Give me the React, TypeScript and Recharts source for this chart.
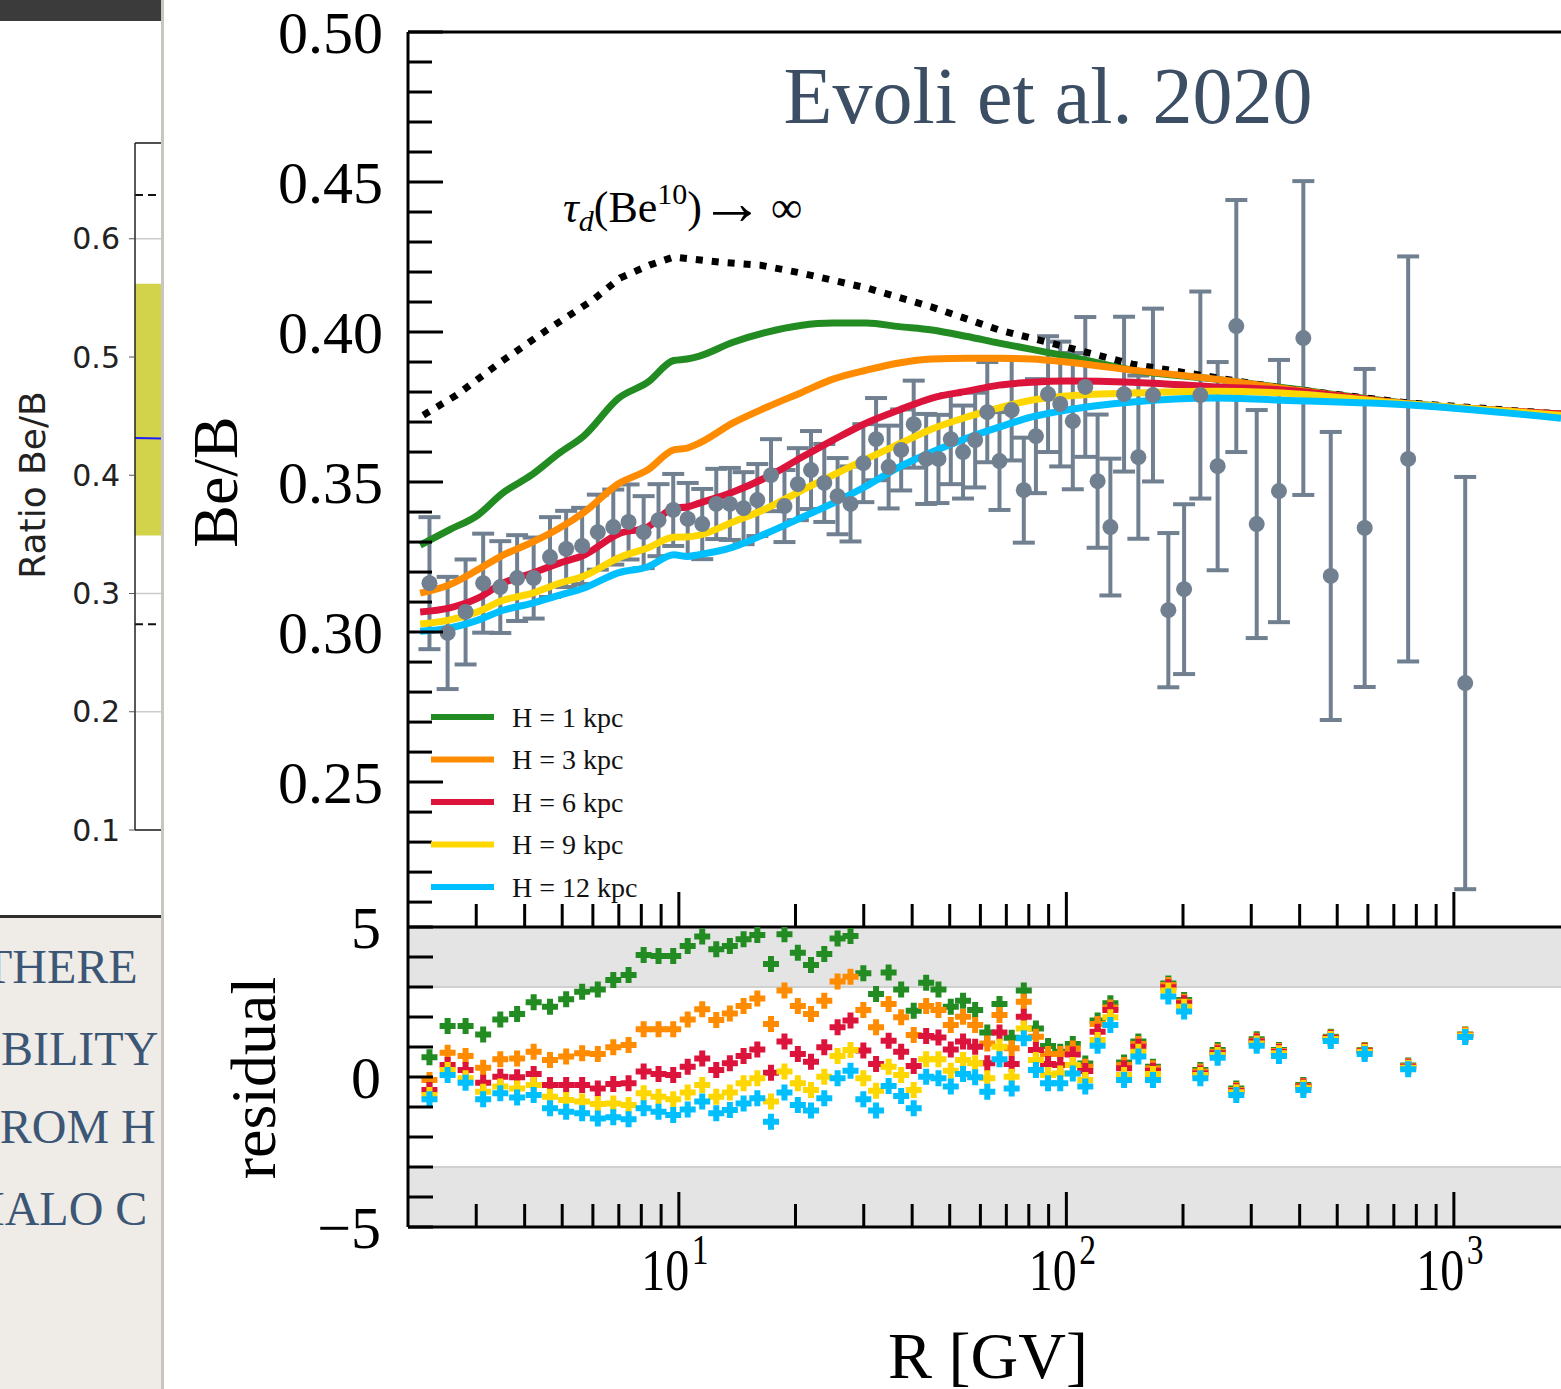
import React from 'react';
import {
  ComposedChart,
  LineChart,
  Line,
  Scatter,
  ErrorBar,
  XAxis,
  YAxis,
  ReferenceLine,
  ReferenceArea,
  CartesianGrid,
} from 'recharts';

const SERIF = '"Liberation Serif", "Times New Roman", serif';
const SANS = '"DejaVu Sans", sans-serif';

// ---------- AMS-02 Be/B data (rigidity bin centres, ratio, error) ----------
const binR = [
  2.272, 2.531, 2.816, 3.126, 3.461, 3.825, 4.22, 4.65, 5.119, 5.629,
  6.178, 6.773, 7.417, 8.112, 8.862, 9.671, 10.54, 11.49, 12.49, 13.54,
  14.69, 15.94, 17.29, 18.73, 20.28, 21.93, 23.73, 25.68, 27.73, 29.93,
  32.28, 34.78, 37.47, 40.37, 43.47, 46.77, 50.32, 54.12, 58.16, 62.51,
  67.21, 72.25, 77.65, 83.45, 89.69, 96.44, 103.9, 111.9, 120.4, 129.9,
  140.9, 153.4, 167.3, 183.3, 201.3, 221.7, 245.7, 274.5, 309.9, 353.7,
  408.8, 481.2, 588.6, 762.1, 1069.6,
];
const beB = [
  0.3163, 0.2997, 0.3067, 0.3163, 0.315, 0.318, 0.318, 0.325, 0.3277, 0.3287,
  0.3333, 0.335, 0.3367, 0.3333, 0.3373, 0.3407, 0.3377, 0.336, 0.3427, 0.3427,
  0.3413, 0.344, 0.3523, 0.342, 0.3493, 0.354, 0.3497, 0.3453, 0.3427, 0.3563,
  0.3643, 0.355, 0.3607, 0.3693, 0.3577, 0.3577, 0.3643, 0.36, 0.364, 0.3733,
  0.357, 0.374, 0.3473, 0.3653, 0.3793, 0.376, 0.3703, 0.3817, 0.3503, 0.335,
  0.3793, 0.3583, 0.379, 0.3073, 0.3143, 0.379, 0.3553, 0.402, 0.336, 0.347,
  0.398, 0.3187, 0.3347, 0.3577, 0.283,
];
const beBErr = [
  0.022, 0.0187, 0.0175, 0.0165, 0.0153, 0.0143, 0.0135, 0.0133, 0.0127, 0.0127,
  0.0125, 0.0125, 0.0125, 0.012, 0.012, 0.012, 0.012, 0.0117, 0.0117, 0.012,
  0.012, 0.012, 0.012, 0.012, 0.012, 0.013, 0.013, 0.0127, 0.0125, 0.013,
  0.0137, 0.0138, 0.0135, 0.0145, 0.015, 0.0147, 0.015, 0.0155, 0.0158, 0.0167,
  0.0163, 0.0168, 0.0175, 0.019, 0.0193, 0.0208, 0.0227, 0.0233, 0.0222, 0.0228,
  0.0258, 0.0272, 0.0288, 0.0257, 0.0283, 0.0345, 0.0347, 0.042, 0.038, 0.0437,
  0.0523, 0.048, 0.053, 0.0675, 0.0687,
];

// ---------- model curves ----------
const modelR = [
  2.15, 2.55, 3.03, 3.5, 4.15, 4.9, 5.7, 7.0, 8.3, 9.7, 10.5, 11.3, 13.8, 16.9,
  20.6, 25, 30.5, 37, 45, 55.5, 67, 81.5, 100, 148, 243, 360, 770, 1890,
];
const modelH1 = [
  0.329, 0.334, 0.339, 0.3462, 0.3522, 0.3595, 0.3655, 0.378, 0.3832, 0.3905, 0.391, 0.392, 0.3966, 0.4,
  0.4022, 0.403, 0.403, 0.4018, 0.4007, 0.3985, 0.3963, 0.3942, 0.392, 0.3873, 0.3843, 0.3815, 0.3762, 0.3725,
];
const modelH3 = [
  0.313, 0.3157, 0.3208, 0.3255, 0.3297, 0.3345, 0.34, 0.3495, 0.354, 0.3607, 0.3613, 0.363, 0.3697, 0.375,
  0.3797, 0.3843, 0.3873, 0.3897, 0.391, 0.3913, 0.3913, 0.391, 0.39, 0.3873, 0.3843, 0.3813, 0.376, 0.3727,
];
const modelH6 = [
  0.3067, 0.308, 0.3113, 0.3162, 0.3195, 0.3229, 0.3257, 0.3328, 0.335, 0.3413, 0.3417, 0.343, 0.3467, 0.3517,
  0.358, 0.364, 0.3697, 0.374, 0.378, 0.3803, 0.3823, 0.3833, 0.3837, 0.3833, 0.3817, 0.3807, 0.376, 0.3727,
];
const modelH9 = [
  0.3027, 0.304, 0.3068, 0.3105, 0.3128, 0.3162, 0.3187, 0.3248, 0.328, 0.3316, 0.3317, 0.3323, 0.3367, 0.3413,
  0.347, 0.3523, 0.3577, 0.3627, 0.3677, 0.3717, 0.3747, 0.3773, 0.3787, 0.3797, 0.3803, 0.3797, 0.376, 0.3723,
];
const modelH12 = [
  0.3003, 0.3013, 0.304, 0.3072, 0.3095, 0.3122, 0.3147, 0.3198, 0.3217, 0.3258, 0.3252, 0.3258, 0.3283, 0.333,
  0.338, 0.343, 0.3487, 0.355, 0.36, 0.3647, 0.3683, 0.3717, 0.374, 0.3767, 0.378, 0.3773, 0.3757, 0.3713,
];
const dottedR = [2.19, 2.67, 3.47, 4.57, 6.0, 7.05, 8.4, 9.7, 12.7, 16.2, 20.6, 30.5, 45, 67, 100, 148, 220, 360, 770, 1890];
const dottedV = [
  0.3723, 0.379, 0.39, 0.4007, 0.4107, 0.418, 0.4223, 0.425, 0.4233, 0.4223,
  0.4197, 0.4147, 0.4083, 0.4007, 0.395, 0.3893, 0.3857, 0.3813, 0.3763, 0.3727,
];

// ---------- residuals ----------
const resH1 = [
  0.66, 1.7, 1.7, 1.42, 1.92, 2.1, 2.49, 2.34, 2.59, 2.84,
  2.92, 3.23, 3.4, 4.07, 4.03, 4.03, 4.37, 4.68, 4.26, 4.37,
  4.59, 4.73, 3.77, 4.76, 4.14, 3.73, 4.1, 4.62, 4.7, 3.46,
  2.77, 3.48, 2.92, 2.21, 3.14, 2.92, 2.34, 2.54, 2.23, 1.48,
  2.43, 1.31, 2.88, 1.62, 1.03, 0.84, 1.1, 0.45, 1.88, 2.46,
  0.48, 1.18, 0.34, 3.12, 2.57, 0.23, 0.9, -0.38, 1.26, 0.9,
  -0.27, 1.34, 0.9, 0.38, 1.42,
];
const resH3 = [
  -0.1, 0.81, 0.7, 0.31, 0.59, 0.62, 0.84, 0.57, 0.68, 0.79,
  0.77, 0.99, 1.07, 1.59, 1.59, 1.59, 1.92, 2.26, 1.9, 2.12,
  2.37, 2.62, 1.77, 2.88, 2.37, 2.1, 2.54, 3.18, 3.34, 2.23,
  1.66, 2.43, 1.99, 1.4, 2.37, 2.23, 1.73, 2.01, 1.73, 1.12,
  2.07, 0.96, 2.51, 1.34, 0.77, 0.77, 0.95, 0.34, 1.77, 2.32,
  0.4, 1.1, 0.29, 3.07, 2.51, 0.18, 0.84, -0.43, 1.21, 0.87,
  -0.3, 1.32, 0.88, 0.36, 1.41,
];
const resH6 = [
  -0.43, 0.4, 0.23, -0.19, 0.01, -0.01, 0.1, -0.27, -0.27, -0.27,
  -0.38, -0.23, -0.21, 0.18, 0.1, 0.07, 0.34, 0.62, 0.23, 0.46,
  0.7, 0.92, 0.14, 1.18, 0.77, 0.51, 0.99, 1.66, 1.88, 0.88,
  0.43, 1.21, 0.84, 0.37, 1.37, 1.32, 0.92, 1.18, 1.01, 0.46,
  1.48, 0.43, 2.01, 0.9, 0.43, 0.4, 0.75, 0.2, 1.51, 2.23,
  0.29, 1.01, 0.21, 2.99, 2.46, 0.12, 0.79, -0.47, 1.18, 0.83,
  -0.32, 1.3, 0.86, 0.34, 1.4,
];
const resH9 = [
  -0.6, 0.23, -0.04, -0.49, -0.32, -0.38, -0.27, -0.66, -0.77, -0.82,
  -0.9, -0.88, -0.93, -0.54, -0.66, -0.74, -0.52, -0.27, -0.66, -0.52,
  -0.21, -0.04, -0.82, 0.18, -0.21, -0.43, 0.01, 0.7, 0.9, -0.04,
  -0.46, 0.34, 0.07, -0.43, 0.59, 0.59, 0.21, 0.57, 0.46, -0.04,
  1.01, 0.01, 1.62, 0.57, 0.07, 0.12, 0.4, -0.1, 1.23, 1.99,
  0.07, 0.84, 0.1, 2.88, 2.34, 0.07, 0.73, -0.51, 1.12, 0.79,
  -0.36, 1.27, 0.83, 0.31, 1.38,
];
const resH12 = [
  -0.74, 0.07, -0.19, -0.74, -0.54, -0.68, -0.6, -1.04, -1.16, -1.21,
  -1.38, -1.34, -1.41, -1.04, -1.16, -1.27, -1.08, -0.82, -1.21, -1.1,
  -0.88, -0.71, -1.49, -0.52, -0.93, -1.12, -0.71, -0.04, 0.21, -0.74,
  -1.12, -0.3, -0.63, -1.04, 0.01, -0.04, -0.32, 0.1, -0.01, -0.49,
  0.59, -0.38, 1.29, 0.23, -0.21, -0.21, 0.12, -0.32, 1.04, 1.73,
  -0.1, 0.68, -0.1, 2.68, 2.18, -0.04, 0.64, -0.6, 1.04, 0.7,
  -0.43, 1.2, 0.77, 0.26, 1.33,
];

const seriesNames = ['H = 1 kpc', 'H = 3 kpc', 'H = 6 kpc', 'H = 9 kpc', 'H = 12 kpc'];
const seriesColors = ['#228b22', '#ff8c00', '#dc143c', '#ffd700', '#00bfff'];

// ---------- ticks ----------
const mainYTicks = [
  0.21, 0.22, 0.23, 0.24, 0.25, 0.26, 0.27, 0.28, 0.29, 0.3,
  0.31, 0.32, 0.33, 0.34, 0.35, 0.36, 0.37, 0.38, 0.39, 0.4,
  0.41, 0.42, 0.43, 0.44, 0.45, 0.46, 0.47, 0.48, 0.49, 0.5,
];
const resYTicks = [-5, -4, -3, -2, -1, 0, 1, 2, 3, 4, 5];
const resYLabels = [-5, 0, 5];
const xTicks = [
  3, 4, 5, 6, 7, 8, 9, 10, 20, 30, 40, 50, 60, 70, 80, 90,
  100, 200, 300, 400, 500, 600, 700, 800, 900, 1000,
];
const xMajor = [10, 100, 1000];
const xMajorExp = ['1', '2', '3'];

// ---------- left (background slide) panel ----------
const leftTicks = [0.1, 0.2, 0.3, 0.4, 0.5, 0.6];
const leftBand = [0.349, 0.562];
const leftDashed = [0.637, 0.274];
const leftBlueX = [0, 1];
const leftBlueV = [0.4315, 0.4285];
const slideWords = ['THERE', 'BILITY', 'FROM H', 'HALO C'];

const mainData = binR.map((R, i) => ({ R, v: beB[i], e: beBErr[i] }));
const modelVals = [modelH1, modelH3, modelH6, modelH9, modelH12];
const resVals = [resH1, resH3, resH6, resH9, resH12];
const modelSeries = modelVals.map((vals, k) => ({
  name: seriesNames[k],
  color: seriesColors[k],
  data: modelR.map((R, i) => ({ R, v: vals[i] })),
}));
const dottedData = dottedR.map((R, i) => ({ R, v: dottedV[i] }));
const residualSeries = resVals.map((vals, k) => ({
  name: seriesNames[k],
  color: seriesColors[k],
  data: binR.map((R, i) => ({ R, v: vals[i] })),
}));
const leftBlueData = leftBlueX.map((x, i) => ({ x, v: leftBlueV[i] }));

const isMajorY = (v: number) => Math.abs(v * 20 - Math.round(v * 20)) < 1e-6;

function MainYTick(props: any) {
  const { x, y, payload } = props;
  const v = payload.value;
  const major = isMajorY(v);
  return (
    <g>
      <line x1={x} x2={x + (major ? 35 : 24)} y1={y} y2={y} stroke="#000" strokeWidth={3} />
      {major && (
        <text x={x - 25} y={y} dy="0.35em" textAnchor="end" fontFamily={SERIF} fontSize={60} fill="#000">
          {v.toFixed(2)}
        </text>
      )}
    </g>
  );
}

function ResYTick(props: any) {
  const { x, y, payload } = props;
  const v = payload.value;
  const lab = resYLabels.includes(v);
  return (
    <g>
      <line x1={x} x2={x + 25} y1={y} y2={y} stroke="#000" strokeWidth={3} />
      {lab && (
        <text x={x - 27} y={y} dy="0.35em" textAnchor="end" fontFamily={SERIF} fontSize={60} fill="#000">
          {v < 0 ? '\u2212' + Math.abs(v) : String(v)}
        </text>
      )}
    </g>
  );
}

function MainXTick(props: any) {
  const { x, y, payload } = props;
  const major = xMajor.includes(payload.value);
  return <line x1={x} x2={x} y1={y} y2={y - (major ? 35 : 23)} stroke="#000" strokeWidth={3} />;
}

function ResXTick(props: any) {
  const { x, y, payload } = props;
  const idx = xMajor.indexOf(payload.value);
  const major = idx >= 0;
  return (
    <g>
      <line x1={x} x2={x} y1={y} y2={y - (major ? 35 : 23)} stroke="#000" strokeWidth={3} />
      {major && (
        <g transform={`translate(${x - 4},${y + 63}) scale(0.8,1)`}>
          <text textAnchor="middle" fontFamily={SERIF} fontSize={60} fill="#000">
            10
            <tspan fontSize={42} dx={3} dy={-26}>
              {xMajorExp[idx]}
            </tspan>
          </text>
        </g>
      )}
    </g>
  );
}

function DataDot(props: any) {
  const { cx, cy } = props;
  if (cx == null || cy == null) return <g />;
  return <circle cx={cx} cy={cy} r={8} fill="#708090" />;
}

function PlusMark(props: any) {
  const { cx, cy, color } = props;
  if (cx == null || cy == null) return <g />;
  const a = 8;
  const t = 3;
  const d = `M${cx - t},${cy - a}H${cx + t}V${cy - t}H${cx + a}V${cy + t}H${cx + t}V${cy + a}H${cx - t}V${cy + t}H${cx - a}V${cy - t}H${cx - t}Z`;
  return <path d={d} fill={color} />;
}

function LeftPanel() {
  return (
    <>
      <div style={{ position: 'absolute', left: 0, top: 0, width: 161, height: 21, background: '#3b3b3b' }} />
      <div style={{ position: 'absolute', left: 0, top: 21, width: 161, height: 894, background: '#fff', overflow: 'hidden' }}>
        <LineChart width={300} height={894} margin={{ top: 122, right: 0, bottom: 0, left: 0 }}>
          <CartesianGrid horizontal vertical={false} stroke="#cccccc" strokeWidth={1.5} />
          <ReferenceArea y1={leftBand[0]} y2={leftBand[1]} fill="#d3d34b" fillOpacity={1} stroke="none" />
          <XAxis dataKey="x" type="number" domain={[0, 1]} height={85} tick={false} tickLine={false} axisLine={{ stroke: '#222', strokeWidth: 1.5 }} />
          <YAxis
            type="number"
            domain={[0.1, 0.681]}
            allowDataOverflow
            ticks={leftTicks}
            interval={0}
            width={135}
            tickSize={6}
            tickMargin={9}
            tickFormatter={(v: number) => v.toFixed(1)}
            tick={{ fontFamily: SANS, fontSize: 30, fill: '#222' }}
            tickLine={{ stroke: '#555' }}
            axisLine={{ stroke: '#222', strokeWidth: 1.5 }}
          />
          <ReferenceLine y={0.681} stroke="#222" strokeWidth={1.5} />
          {leftDashed.map((v) => (
            <ReferenceLine key={v} y={v} stroke="#111" strokeWidth={2} strokeDasharray="8 5" />
          ))}
          <Line data={leftBlueData} dataKey="v" stroke="#1c1cff" strokeWidth={2} dot={false} isAnimationActive={false} />
        </LineChart>
      </div>
      <div style={{ position: 'absolute', left: 0, top: 915, width: 161, height: 3, background: '#2e2e2e' }} />
      <div style={{ position: 'absolute', left: 0, top: 918, width: 161, height: 471, background: '#efece7', overflow: 'hidden' }}>
        <svg width={161} height={471}>
          {slideWords.map((w, i) => (
            <text
              key={w}
              x={[-17, 1, -27, -30][i]}
              y={[65, 147, 225, 307][i]}
              fontFamily={SERIF}
              fontSize={48}
              fill="#3c5676"
            >
              {w}
            </text>
          ))}
        </svg>
      </div>
      <div style={{ position: 'absolute', left: 161, top: 0, width: 3, height: 1389, background: '#c9c5c1' }} />
    </>
  );
}

export default function App() {
  return (
    <div style={{ position: 'absolute', left: 0, top: 0, width: 1561, height: 1389, overflow: 'hidden', background: '#fff' }}>
      <LeftPanel />

      {/* main panel */}
      <div style={{ position: 'absolute', left: 0, top: 0 }}>
        <ComposedChart width={1561} height={930} margin={{ top: 32, right: 0, bottom: 0, left: 0 }}>
          <XAxis
            dataKey="R"
            type="number"
            scale="log"
            domain={[2, 1890]}
            allowDataOverflow
            ticks={xTicks}
            interval={0}
            height={3}
            tickSize={0}
            tickMargin={0}
            axisLine={false}
            tickLine={false}
            tick={(p: any) => <MainXTick {...p} />}
          />
          <YAxis
            type="number"
            domain={[0.2017, 0.5]}
            allowDataOverflow
            ticks={mainYTicks}
            interval={0}
            width={408}
            tickSize={0}
            tickMargin={0}
            axisLine={{ stroke: '#000', strokeWidth: 3 }}
            tickLine={false}
            tick={(p: any) => <MainYTick {...p} />}
          />
          <ReferenceLine y={0.5} stroke="#000" strokeWidth={3} />
          <Scatter data={mainData} dataKey="v" fill="#708090" shape={(p: any) => <DataDot {...p} />} isAnimationActive={false}>
            <ErrorBar dataKey="e" direction="y" width={11} strokeWidth={4} stroke="#708090" />
          </Scatter>
          <Line
            data={modelSeries[0].data}
            dataKey="v"
            type="monotone"
            stroke={modelSeries[0].color}
            strokeWidth={7}
            dot={false}
            isAnimationActive={false}
          />
          <Line
            data={dottedData}
            dataKey="v"
            type="linear"
            stroke="#000"
            strokeWidth={7}
            strokeDasharray="7 9"
            dot={false}
            isAnimationActive={false}
          />
          {modelSeries.slice(1).map((s) => (
            <Line
              key={s.name}
              data={s.data}
              dataKey="v"
              type="monotone"
              stroke={s.color}
              strokeWidth={7}
              dot={false}
              isAnimationActive={false}
            />
          ))}
        </ComposedChart>
      </div>

      {/* residual panel */}
      <div style={{ position: 'absolute', left: 0, top: 900 }}>
        <ComposedChart width={1561} height={489} margin={{ top: 27, right: 0, bottom: 0, left: 0 }}>
          <ReferenceArea y1={3} y2={5} fill="#e4e4e4" fillOpacity={1} stroke="none" />
          <ReferenceArea y1={-5} y2={-3} fill="#e4e4e4" fillOpacity={1} stroke="none" />
          <ReferenceLine y={3} stroke="#d0d0d0" strokeWidth={2} />
          <ReferenceLine y={-3} stroke="#d0d0d0" strokeWidth={2} />
          <XAxis
            dataKey="R"
            type="number"
            scale="log"
            domain={[2, 1890]}
            allowDataOverflow
            ticks={xTicks}
            interval={0}
            height={162}
            tickSize={0}
            tickMargin={0}
            axisLine={{ stroke: '#000', strokeWidth: 3 }}
            tickLine={false}
            tick={(p: any) => <ResXTick {...p} />}
          />
          <YAxis
            type="number"
            domain={[-5, 5]}
            allowDataOverflow
            ticks={resYTicks}
            interval={0}
            width={408}
            tickSize={0}
            tickMargin={0}
            axisLine={{ stroke: '#000', strokeWidth: 3 }}
            tickLine={false}
            tick={(p: any) => <ResYTick {...p} />}
          />
          <ReferenceLine y={5} stroke="#000" strokeWidth={3} />
          {residualSeries.map((s) => (
            <Scatter
              key={s.name}
              data={s.data}
              dataKey="v"
              fill={s.color}
              shape={(p: any) => <PlusMark {...p} color={s.color} />}
              isAnimationActive={false}
            />
          ))}
        </ComposedChart>
      </div>

      {/* text overlay: labels, title, annotation, legend */}
      <svg width={1561} height={1389} style={{ position: 'absolute', left: 0, top: 0, pointerEvents: 'none' }}>
        <text transform="translate(45,485) rotate(-90)" textAnchor="middle" fontFamily={SANS} fontSize={36} fill="#222">
          Ratio Be/B
        </text>
        <text transform="translate(237,482) rotate(-90)" textAnchor="middle" fontFamily={SERIF} fontSize={64} fill="#000">
          Be/B
        </text>
        <text transform="translate(275,1078) rotate(-90)" textAnchor="middle" fontFamily={SERIF} fontSize={64} fill="#000">
          residual
        </text>
        <text x={988} y={1378} textAnchor="middle" fontFamily={SERIF} fontSize={66} fill="#000">
          R [GV]
        </text>
        <text x={1048} y={123} textAnchor="middle" fontFamily={SERIF} fontSize={80} fill="#3b4e64">
          Evoli et al. 2020
        </text>
        <text x={563} y={222} fontFamily={SERIF} fontSize={44} fill="#000">
          <tspan fontStyle="italic">τ</tspan>
          <tspan fontStyle="italic" fontSize={30} dy={9}>d</tspan>
          <tspan dy={-9}>(Be</tspan>
          <tspan fontSize={30} dy={-18}>10</tspan>
          <tspan dy={18}>)</tspan>
          <tspan fontSize={64} dx={-2} dy={2}>→</tspan>
          <tspan dx={-4} dy={-2}> ∞</tspan>
        </text>
        {seriesNames.map((n, k) => (
          <g key={n}>
            <line x1={431} x2={494} y1={717 + 42.5 * k} y2={717 + 42.5 * k} stroke={seriesColors[k]} strokeWidth={6} />
            <text x={512} y={717 + 42.5 * k} dy="0.35em" fontFamily={SERIF} fontSize={28} fill="#111">
              {n}
            </text>
          </g>
        ))}
      </svg>
    </div>
  );
}
